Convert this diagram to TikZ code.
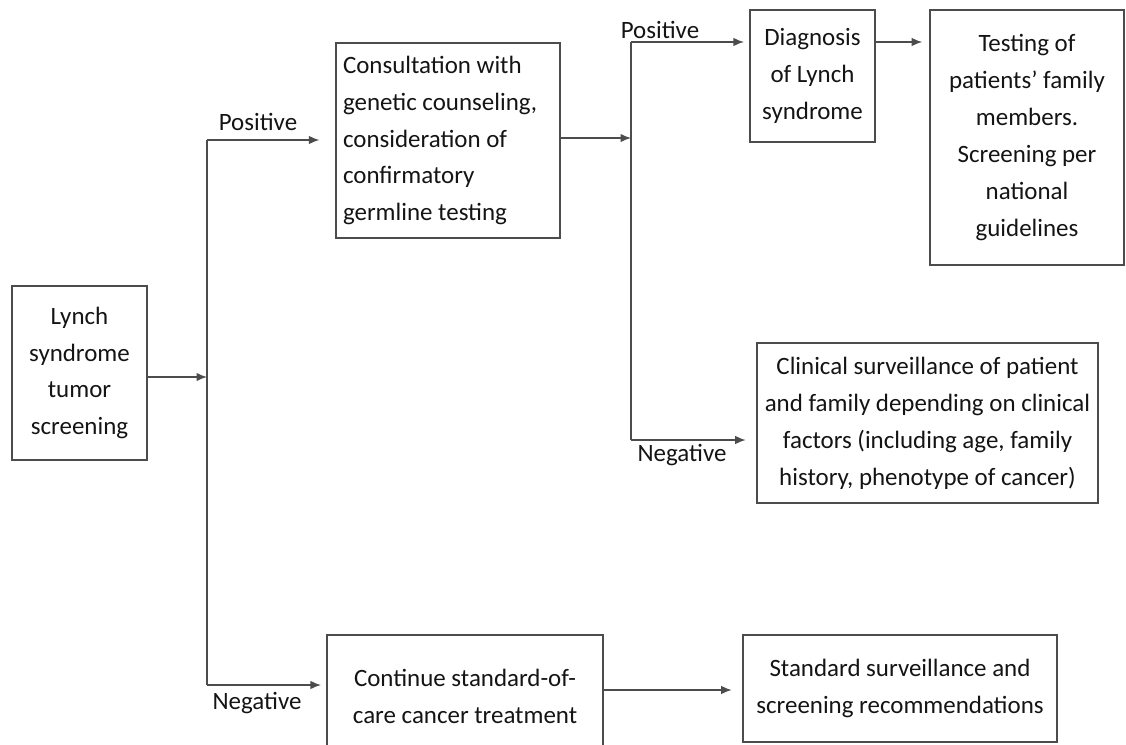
\documentclass[tikz,border=0pt]{standalone}
\usepackage{fontspec}
\setmainfont{Carlito}
\usetikzlibrary{arrows.meta,calc}
\definecolor{LineClr}{rgb}{0.3,0.3,0.3}
\definecolor{TextClr}{rgb}{0.08,0.08,0.08}

\begin{document}
\begin{tikzpicture}[x=0.02cm,y=-0.02cm,>={Latex[length=2.1mm,width=1.7mm]},
  box/.style={draw=LineClr,line width=0.9pt,inner sep=0pt,align=center,
    text=TextClr,font=\fontsize{14.2}{21}\selectfont},
  flow/.style={->,draw=LineClr,line width=0.8pt},
  lbl/.style={text=TextClr,font=\fontsize{14.2}{16}\selectfont,inner sep=0pt}]
\useasboundingbox (0,0) rectangle (1126,744);

% boxes
\node[box,minimum width=2.7cm,minimum height=3.48cm] (screen) at (79.5,373)
  {Lynch\\syndrome\\tumor\\screening};
\node[box,minimum width=4.48cm,minimum height=3.9cm,text width=4.2cm,align=flush left] (consult) at (448,140.5)
  {Consultation with\\genetic counseling,\\consideration of\\confirmatory\\germline testing};
\node[box,minimum width=2.5cm,minimum height=2.64cm] (diag) at (812.5,76)
  {Diagnosis\\of Lynch\\syndrome};
\node[box,minimum width=3.88cm,minimum height=5.1cm] (famtest) at (1027,137.5)
  {Testing of\\patients’ family\\members.\\Screening per\\national\\guidelines};
\node[box,minimum width=6.82cm,minimum height=3.2cm] (clinical) at (927.5,423)
  {Clinical surveillance of patient\\and family depending on clinical\\factors (including age, family\\history, phenotype of cancer)};
\node[box,minimum width=5.52cm,minimum height=2.44cm] (cont) at (465,696)
  {Continue standard-of-\\care cancer treatment};
\node[box,minimum width=6.28cm,minimum height=2.14cm] (standard) at (900,688.5)
  {Standard surveillance and\\screening recommendations};

% branch points
\coordinate (splitA) at (207,377);
\coordinate (posA) at (207,140);
\coordinate (negA) at (207,685);
\coordinate (splitB) at (631,138);
\coordinate (posB) at (631,42);
\coordinate (negB) at (631,440);

\draw[flow] (screen.east |- splitA) -- (splitA);
\draw[draw=LineClr,line width=0.8pt] (posA) -- (negA);
\draw[flow,shorten >=9pt] (posA) -- (posA -| consult.west);
\draw[flow,shorten >=3pt] (negA) -- (negA -| cont.west);
\draw[flow] (consult.east |- splitB) -- (splitB);
\draw[draw=LineClr,line width=0.8pt] (posB) -- (negB);
\draw[flow,shorten >=3pt] (posB) -- (posB -| diag.west);
\draw[flow,shorten >=4pt] (diag.east |- posB) -- (posB -| famtest.west);
\draw[flow,shorten >=6pt] (negB) -- (negB -| clinical.west);
\draw[flow,shorten >=6pt] (cont.east |- 0,690) -- (standard.west |- 0,690);

% labels
\node[lbl] (posAlbl) at (258,122) {Positive};
\node[lbl] (negAlbl) at (257,703) {Negative};
\node[lbl] (posBlbl) at (660,30) {Positive};
\node[lbl] (negBlbl) at (682,455) {Negative};
\end{tikzpicture}
\end{document}
